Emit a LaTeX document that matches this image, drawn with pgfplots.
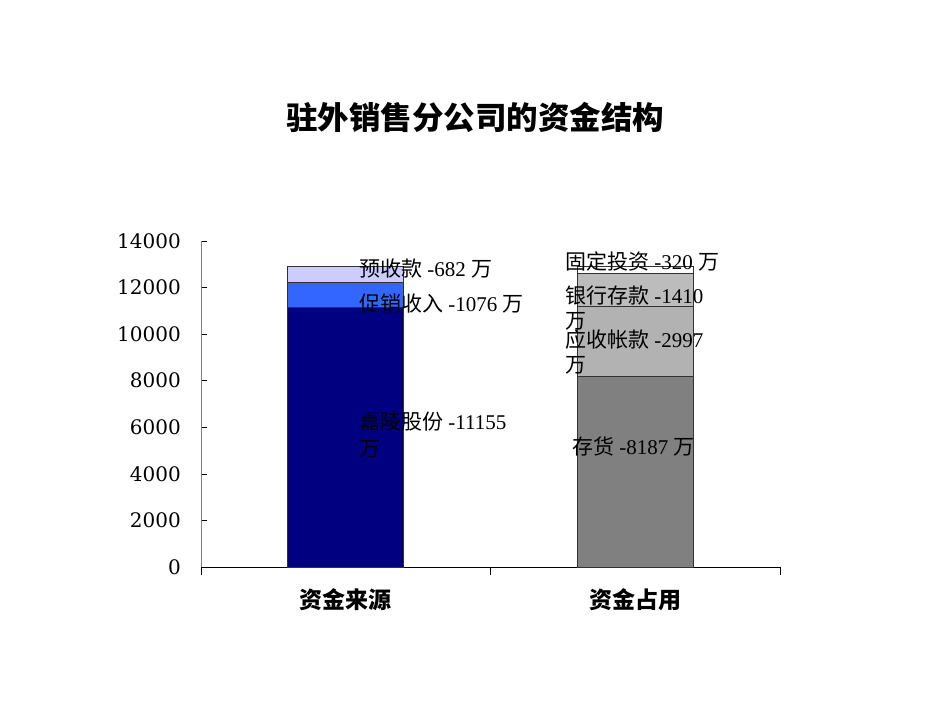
\documentclass[border=0pt]{standalone}
\usepackage{pgfplots}
\pgfplotsset{compat=1.18}
\usepackage{fontspec}
\setmainfont{Liberation Serif}
\newfontfamily\cjk{Noto Sans CJK SC}
\newfontfamily\dvs{DejaVu Serif}

\definecolor{navybar}{RGB}{0,0,128}
\definecolor{bluebar}{RGB}{51,102,255}
\definecolor{lavbar}{RGB}{204,204,255}
\definecolor{graybar}{RGB}{128,128,128}
\definecolor{ltgray}{RGB}{178,178,178}
\definecolor{ltgrayb}{RGB}{188,188,188}
\definecolor{edge}{RGB}{50,50,50}

\newcommand{\lab}{\fontsize{21}{26}\selectfont}

\begin{document}
\begin{tikzpicture}
\useasboundingbox (0,0) rectangle (950pt,713pt);
\pgfplotsset{
  base/.style={
    scale only axis, width=579pt, height=326pt,
    at={(201pt,146pt)}, anchor=south west,
    xmin=-0.5, xmax=1.5, ymin=0, ymax=14000,
    ybar stacked, bar width=0.4, clip=false,
  },
}

% left bar: sources of funds
\begin{axis}[base,
    axis x line*=bottom, axis y line*=left,
    axis line style={-},
    x axis line style={black},
    y axis line style={gray},
    ytick={0,2000,...,14000},
    scaled y ticks=false,
    yticklabel style={font=\dvs\fontsize{20}{23}\selectfont, inner sep=0pt, xshift=-20pt,
      /pgf/number format/assume math mode=true,
      /pgf/number format/set thousands separator={}},
    ytick style={black, line width=0.6pt},
    ytick align=inside,
    major tick length=6pt,
    xtick={0,1},
    xticklabels={资金来源,资金占用},
    xtick style={draw=none},
    xticklabel style={font=\cjk\bfseries\fontsize{23}{27}\selectfont, inner sep=0pt, yshift=-21pt},
    extra x ticks={-0.5,0.5,1.5},
    extra x tick labels={},
    extra x tick style={xtick align=outside, major tick length=8pt,
      xtick style={draw=black, line width=0.6pt}},
  ]
  \addplot[fill=navybar, draw=edge, line width=0.8pt] coordinates {(0,11155)};
  \addplot[fill=bluebar, draw=edge, line width=0.8pt] coordinates {(0,1076)};
  \addplot[fill=lavbar, draw=edge, line width=0.8pt] coordinates {(0,682)};
\end{axis}

% right bar: uses of funds
\begin{axis}[base, hide axis]
  \addplot[fill=graybar, draw=edge, line width=0.8pt] coordinates {(1,8187)};
  \addplot[fill=ltgray, draw=edge, line width=0.8pt] coordinates {(1,2997)};
  \addplot[fill=ltgrayb, draw=edge, line width=0.8pt] coordinates {(1,1410)};
  \addplot[fill=white, draw=edge, line width=0.8pt] coordinates {(1,320)};
\end{axis}

% title
\node[font=\cjk\bfseries\fontsize{31.5}{36}\selectfont] at (475pt,596pt) {驻外销售分公司的资金结构};

% data labels
\begin{scope}[every node/.style={anchor=west, inner sep=0pt, font=\lab}]
  \node at (359pt,444pt) {{\cjk 预收款} -682 {\cjk 万}};
  \node at (359pt,409pt) {{\cjk 促销收入} -1076 {\cjk 万}};
  \node at (359pt,291pt) {{\cjk 嘉陵股份} -11155};
  \node at (359pt,264pt) {\cjk 万};
  \node at (565pt,452pt) {{\cjk 固定投资} -320 {\cjk 万}};
  \node at (565pt,417pt) {{\cjk 银行存款} -1410};
  \node at (565pt,392pt) {\cjk 万};
  \node at (565pt,373pt) {{\cjk 应收帐款} -2997};
  \node at (565pt,348pt) {\cjk 万};
  \node at (572pt,267pt) {{\cjk 存货} -8187 {\cjk 万}};
\end{scope}
\end{tikzpicture}
\end{document}
